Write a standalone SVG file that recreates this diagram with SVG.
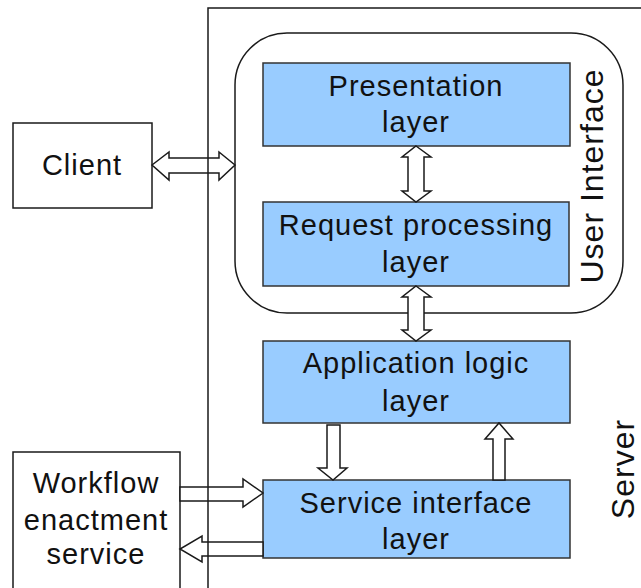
<svg xmlns="http://www.w3.org/2000/svg" width="641" height="588" viewBox="0 0 641 588">
  <style>
    .box { fill: #ffffff; stroke: #1a1a1a; stroke-width: 1.5; }
    .layer { fill: #99ccff; stroke: #333333; stroke-width: 1.5; }
    .frame { fill: none; stroke: #1a1a1a; stroke-width: 1.5; }
    .arrow { fill: #ffffff; stroke: #1a1a1a; stroke-width: 1.5; stroke-linejoin: miter; }
    .lbl { font-family: "Liberation Sans", Arial, sans-serif; font-size: 29px; letter-spacing: 1px; fill: #111111; text-anchor: middle; }
    .side { font-family: "Liberation Sans", Arial, sans-serif; font-size: 32px; letter-spacing: 1px; fill: #111111; text-anchor: middle; }
  </style>
  <rect width="641" height="588" fill="#ffffff"/>

  <!-- external actors -->
  <g id="client">
    <rect class="box" x="13" y="123" width="139" height="85"/>
    <text class="lbl" x="82" y="175">Client</text>
  </g>
  <g id="workflow">
    <rect class="box" x="13" y="452" width="167" height="150"/>
    <text class="lbl" x="96" y="493">Workflow</text>
    <text class="lbl" x="96" y="530">enactment</text>
    <text class="lbl" x="96" y="564">service</text>
  </g>

  <!-- user interface grouping -->
  <g id="user-interface">
    <rect class="frame" x="235" y="33" width="388" height="280" rx="52" ry="52"/>
    <text class="side" transform="translate(603,176) rotate(-90)">User Interface</text>
  </g>

  <!-- server layers -->
  <g id="presentation">
    <rect class="layer" x="263" y="63" width="307" height="83"/>
    <text class="lbl" x="416" y="96">Presentation</text>
    <text class="lbl" x="416" y="132">layer</text>
  </g>
  <g id="request-processing">
    <rect class="layer" x="263" y="202" width="306" height="84"/>
    <text class="lbl" x="416" y="235">Request processing</text>
    <text class="lbl" x="416" y="272">layer</text>
  </g>
  <g id="application-logic">
    <rect class="layer" x="263" y="341" width="307" height="82"/>
    <text class="lbl" x="416" y="373">Application logic</text>
    <text class="lbl" x="416" y="411">layer</text>
  </g>
  <g id="service-interface">
    <rect class="layer" x="263" y="480" width="307" height="78"/>
    <text class="lbl" x="416" y="513">Service interface</text>
    <text class="lbl" x="416" y="549">layer</text>
  </g>

  <!-- block arrows -->
  <g id="connectors">
    <!-- client <-> user interface -->
    <polygon class="arrow" points="152,165 169,152 169,158 219,158 219,152 235,165 219,180 219,173 169,173 169,180"/>
    <!-- presentation <-> request processing -->
    <polygon class="arrow" points="416,146 431,157 424,157 424,191 431,191 416,202 402,191 408,191 408,157 402,157"/>
    <!-- request processing <-> application logic -->
    <polygon class="arrow" points="416,286 431,297 424,297 424,330 431,330 416,341 402,330 408,330 408,297 402,297"/>
    <!-- application logic -> service interface -->
    <polygon class="arrow" points="327,425 340,425 340,468 347,468 333,480 318,468 327,468"/>
    <!-- service interface -> application logic -->
    <polygon class="arrow" points="493,480 493,439 485,439 499,423 513,439 505,439 505,480"/>
    <!-- workflow -> service interface -->
    <polygon class="arrow" points="180,487 243,487 243,479 263,493 243,507 243,501 180,501"/>
    <!-- service interface -> workflow -->
    <polygon class="arrow" points="263,542 202,542 202,536 180,549 202,562 202,556 263,556"/>
  </g>

  <!-- server boundary -->
  <g id="server">
    <rect class="frame" x="208" y="8" width="460" height="600"/>
    <text class="side" transform="translate(634,469) rotate(-90)">Server</text>
  </g>
</svg>
